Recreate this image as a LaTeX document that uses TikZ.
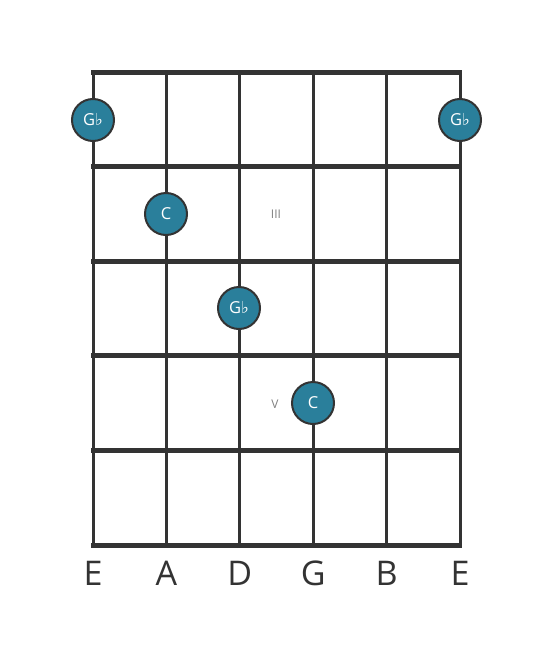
\documentclass[tikz,border=0pt]{standalone}
\usepackage{fontspec}
\setmainfont{Open Sans}
\newfontfamily\symfont{DejaVu Sans}
\usetikzlibrary{calc}
\definecolor{noteteal}{HTML}{2A7F9B}
\definecolor{gridgray}{HTML}{333333}
\newcommand{\flt}{{\symfont\char"266D}}

\begin{document}
\begin{tikzpicture}[x=1pt,y=-1pt,
    note/.style={circle,draw=gridgray,line width=2pt,fill=noteteal,
      minimum size=42pt,inner sep=0pt,text=white,font=\fontsize{16.5}{16.5}\selectfont},
    strname/.style={text=gridgray,font=\fontsize{34}{34}\selectfont},
    fretnum/.style={text=gray,font=\fontsize{12}{12}\selectfont}]
  \useasboundingbox (0,0) rectangle (553,656);
  % strings
  \foreach \s in {0,...,5}
    \draw[gridgray,line width=3pt] (93+73.4*\s,72) -- (93+73.4*\s,545);
  % frets
  \foreach \f in {0,...,5}
    \draw[gridgray,line width=5pt] (91,72+94.6*\f) -- (462,72+94.6*\f);
  % string names
  \foreach \n [count=\i from 0] in {E,A,D,G,B,E}
    \node[strname] (str\i) at (93+73.4*\i,573) {\n};
  % fret markers
  \node[fretnum] (mkIII) at (276,214) {III};
  \node[fretnum] (mkV) at (275,404) {V};
  % notes
  \node[note] (nGbA) at (93,120) {G\flt};
  \node[note] (nGbB) at (460,120) {G\flt};
  \node[note] (nCA) at (166,214) {C};
  \node[note] (nGbC) at (239,308) {G\flt};
  \node[note] (nCB) at (313,403) {C};
\end{tikzpicture}
\end{document}
